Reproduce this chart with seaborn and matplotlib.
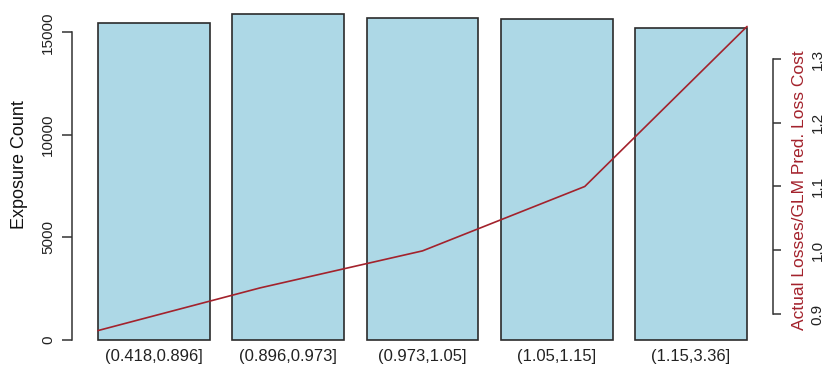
import matplotlib
matplotlib.use("Agg")
import matplotlib.pyplot as plt
import seaborn as sns

# Predicted loss-cost bands, exposure per band and actual/predicted ratio
bands = ["(0.418,0.896]", "(0.896,0.973]", "(0.973,1.05]", "(1.05,1.15]", "(1.15,3.36]"]
exposure = [15460, 15920, 15720, 15660, 15200]
ratio = [0.874, 0.941, 0.999, 1.100, 1.351]
band_index = [1, 2, 3, 4, 5]

left_ticks = [0, 5000, 10000, 15000]
right_ticks = [0.9, 1.0, 1.1, 1.2, 1.3]

sns.set_style("white")
plt.rcParams["font.family"] = ["Liberation Sans", "DejaVu Sans"]

W, H = 827, 371
fig = plt.figure(figsize=(W / 100, H / 100), dpi=100)

# plotting region in pixels
px_left, px_right, px_top, px_bottom = 72, 773, 0, 346
rect = [px_left / W, (H - px_bottom) / H, (px_right - px_left) / W, (px_bottom - px_top) / H]

ax = fig.add_axes(rect)
sns.barplot(x=bands, y=exposure, color="#ADD8E6", saturation=1, width=0.834,
            edgecolor="#2b2b2b", linewidth=1.2, ax=ax)
ax.set_xlim(-0.611, 4.611)
ax.set_ylim(-293, 16585)
for s in ["top", "right", "bottom"]:
    ax.spines[s].set_visible(False)
ax.spines["left"].set_bounds(0, 15000)
ax.spines["left"].set_color("#333333")
ax.spines["left"].set_linewidth(1.1)
ax.set_yticks(left_ticks)
ax.set_yticklabels([str(t) for t in left_ticks], rotation=90, va="center", fontsize=11)
ax.tick_params(axis="y", direction="out", length=7, width=1.1, color="#333333", pad=5,
               left=True, labelcolor="#222222")
ax.tick_params(axis="x", length=0, pad=2, labelsize=12, labelcolor="#222222")
ax.set_xlabel("")
ax.set_ylabel("")
fig.text(20 / W, 1 - 165 / H, "Exposure Count", rotation=90, ha="center", va="center",
         fontsize=13, color="#111111")

# Ratio line on its own scale, right-hand axis
ax2 = fig.add_axes(rect)
ax2.patch.set_visible(False)
sns.lineplot(x=band_index, y=ratio, color="#a3222c", linewidth=1.2, ax=ax2)
ax2.set_xlim(0.84, 5.16)
ax2.set_ylim(0.8498, 1.3925)
ax2.xaxis.set_visible(False)
for s in ["top", "left", "bottom"]:
    ax2.spines[s].set_visible(False)
ax2.spines["right"].set_bounds(0.9, 1.3)
ax2.spines["right"].set_color("#333333")
ax2.spines["right"].set_linewidth(1.1)
ax2.yaxis.tick_right()
ax2.set_yticks(right_ticks)
ax2.set_yticklabels([f"{t:.1f}" for t in right_ticks], rotation=90, va="center", fontsize=11)
ax2.tick_params(axis="y", direction="out", length=6, width=1.1, color="#333333", pad=21,
                right=True, left=False, labelcolor="#222222")
ax2.set_ylabel("")
ax2.set_xlabel("")
fig.text(799 / W, 1 - 190 / H, "Actual Losses/GLM Pred. Loss Cost", rotation=90,
         ha="center", va="center", fontsize=12.5, color="#a3222c")

fig.savefig("out.png", dpi=100)
